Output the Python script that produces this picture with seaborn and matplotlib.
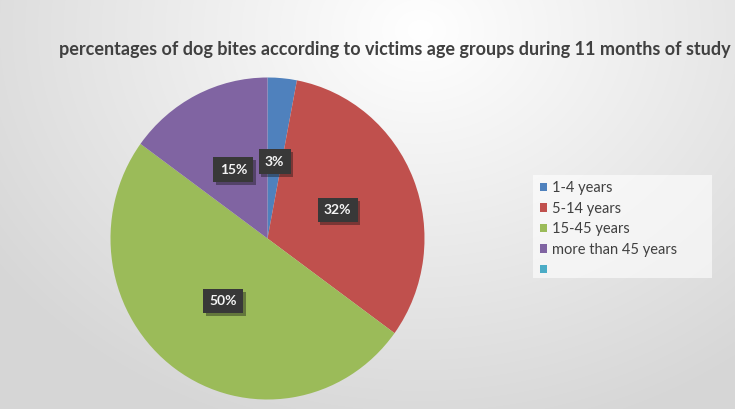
import numpy as np
import matplotlib
matplotlib.use("Agg")
import matplotlib.pyplot as plt
import matplotlib.patheffects as pe
from matplotlib.patches import Rectangle
import seaborn as sns

title = "percentages of dog bites according to victims age groups during 11 months of study"
categories = ["1-4 years", "5-14 years", "15-45 years", "more than 45 years", ""]
values = [3, 32, 50, 15, 0]
colors = ["#4F81BD", "#C0504D", "#9BBB59", "#8064A2", "#4BACC6"]

sns.set_theme(style="white")
plt.rcParams['font.family'] = ['Lato', 'DejaVu Sans']

W, H = 735, 409
fig = plt.figure(figsize=(W / 100, H / 100), dpi=100)

# background radial gradient
bg = fig.add_axes([0, 0, 1, 1])
yy, xx = np.mgrid[0:H, 0:W]
d = np.sqrt(((xx - 420) / 520.0) ** 2 + ((yy - 30) / 420.0) ** 2)
d = np.clip(d, 0, 1)
top = np.array([1.0, 1.0, 1.0])
bot = np.array([0.84, 0.84, 0.84])
img = top[None, None, :] * (1 - d[..., None]) + bot[None, None, :] * d[..., None]
bg.imshow(img, aspect="auto", extent=[0, W, H, 0])
bg.set_axis_off()

# pie axes (slightly elliptical like the reference)
cx, cy, rx, ry = 267.5, 238.5, 157, 161
ax = fig.add_axes([(cx - rx) / W, (H - cy - ry) / H, 2 * rx / W, 2 * ry / H])
ax.patch.set_alpha(0)
wedges, texts, autotexts = ax.pie(
    values, colors=sns.color_palette(colors), startangle=90, counterclock=False,
    autopct=lambda p: f"{p:.0f}%" if p > 0 else "", pctdistance=0.48,
    wedgeprops=dict(edgecolor="none", linewidth=0),
    textprops=dict(color="#f4f4f4", fontsize=10, fontweight="bold"),
)
ax.set_aspect("auto")
ax.set_xlim(-1, 1)
ax.set_ylim(-1, 1)
for t in autotexts:
    t.set_bbox(dict(boxstyle="square,pad=0.45", facecolor="#383838", edgecolor="none"))
    t.get_bbox_patch().set_path_effects([pe.SimplePatchShadow(offset=(2, -2), alpha=0.4), pe.Normal()])

# legend background box
fig.patches.append(Rectangle((533 / W, 1 - 278 / H), (712 - 533) / W, (278 - 175) / H,
                             transform=fig.transFigure, facecolor="white", alpha=0.6,
                             edgecolor="none", zorder=1))

leg = fig.legend(
    wedges, categories, loc="upper left",
    bbox_to_anchor=(527 / W, 1 - 168 / H), frameon=False,
    fontsize=10.5, handlelength=0.5, handleheight=0.5, handletextpad=0.3,
    labelspacing=0.45, borderpad=0.4, labelcolor="#404040",
)

# title
tt = fig.text(395 / W, 1 - 50 / H, title, ha="center", va="center",
              fontsize=12, fontweight="bold", color="#404040")
fig.canvas.draw()
ext = tt.get_window_extent()
tt.set_fontsize(12 * 666 / ext.width)

fig.savefig("out.png", dpi=100)
